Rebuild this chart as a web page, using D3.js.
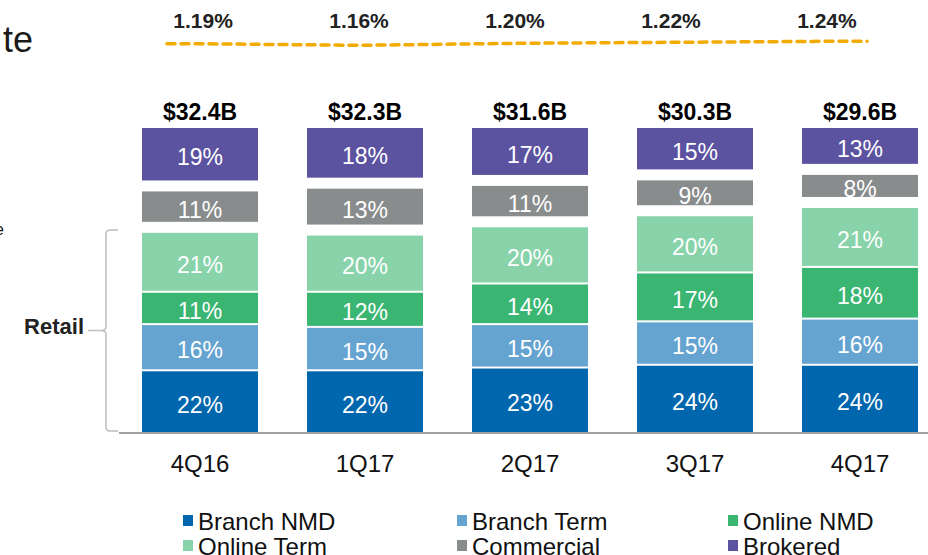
<!DOCTYPE html>
<html>
<head>
<meta charset="utf-8">
<script src="https://cdn.jsdelivr.net/npm/d3@7"></script>
<style>
  body { margin: 0; background: #fff; }
  svg { font-family: "Liberation Sans", Arial, sans-serif; display: block; }
</style>
</head>
<body>
<div id="chart"></div>
<script>
const quarters = ["4Q16", "1Q17", "2Q17", "3Q17", "4Q17"];
const seriesNames = ["Branch NMD", "Branch Term", "Online NMD", "Online Term", "Commercial", "Brokered"];
const branchNMD = [22, 22, 23, 24, 24];
const branchTerm = [16, 15, 15, 15, 16];
const onlineNMD = [11, 12, 14, 17, 18];
const onlineTerm = [21, 20, 20, 20, 21];
const commercial = [11, 13, 11, 9, 8];
const brokered = [19, 18, 17, 15, 13];
const totals = [32.4, 32.3, 31.6, 30.3, 29.6];
const rates = [1.19, 1.16, 1.20, 1.22, 1.24];

const colors = ["#0066ad", "#65a3d0", "#3ab572", "#88d3aa", "#898c8c", "#5b52a0"];

const width = 928;
const height = 555;
const baseY = 432;
// white space stacked under each series (retail pieces sit close, the others apart)
const gapBelow = [0, 2, 4, 6, 17, 28];

const rows = quarters.map((q, i) => ({
  quarter: q,
  "Branch NMD": branchNMD[i],
  "Branch Term": branchTerm[i],
  "Online NMD": onlineNMD[i],
  "Online Term": onlineTerm[i],
  "Commercial": commercial[i],
  "Brokered": brokered[i]
}));

const stacked = d3.stack().keys(seriesNames)(rows);

const x = d3.scaleBand()
  .domain(quarters)
  .range([142, 918])
  .paddingInner(0.297)
  .paddingOuter(0);

const h = d3.scaleLinear()
  .domain([0, 100])
  .range([0, 276]);

const svg = d3.select('#chart')
  .append('svg')
  .attr('width', width)
  .attr('height', height);

// cut-off title pieces at the left edge
svg.append('text')
  .text('te')
  .attr('x', 33)
  .attr('y', 52)
  .attr('text-anchor', 'end')
  .style('font-size', '36px')
  .attr('fill', '#1a1a1a');

svg.append('text')
  .text('e')
  .attr('x', 4)
  .attr('y', 235)
  .attr('text-anchor', 'end')
  .style('font-size', '17px')
  .attr('fill', '#1a1a1a');

// baseline
svg.append('line')
  .attr('x1', 119)
  .attr('x2', width)
  .attr('y1', baseY + 1)
  .attr('y2', baseY + 1)
  .attr('stroke', '#a0a0a0')
  .attr('stroke-width', 2);

const layers = svg.selectAll('g.layer')
  .data(stacked)
  .enter()
  .append('g')
  .attr('class', 'layer')
  .attr('fill', (d, i) => colors[i]);

layers.selectAll('rect')
  .data((d, i) => d.map(p => ({ p: p, i: i })))
  .enter()
  .append('rect')
  .attr('x', d => x(d.p.data.quarter))
  .attr('width', x.bandwidth())
  .attr('y', d => baseY - h(d.p[1]) - gapBelow[d.i])
  .attr('height', d => h(d.p[1]) - h(d.p[0]));

layers.selectAll('text')
  .data((d, i) => d.map(p => ({ p: p, i: i })))
  .enter()
  .append('text')
  .text(d => (d.p[1] - d.p[0]) + '%')
  .attr('x', d => x(d.p.data.quarter) + x.bandwidth() / 2)
  .attr('y', d => baseY - gapBelow[d.i] - (h(d.p[0]) + h(d.p[1])) / 2)
  .attr('dy', '0.48em')
  .attr('text-anchor', 'middle')
  .attr('fill', '#fff')
  .style('font-size', '23px');

// totals above the bars
svg.selectAll('text.total')
  .data(totals)
  .enter()
  .append('text')
  .attr('class', 'total')
  .text(d => '$' + d.toFixed(1) + 'B')
  .attr('x', (d, i) => x(quarters[i]) + x.bandwidth() / 2)
  .attr('y', baseY - h(100) - gapBelow[5] - 8)
  .attr('text-anchor', 'middle')
  .attr('fill', '#000')
  .style('font-weight', 'bold')
  .style('font-size', '23px');

// quarter labels
svg.selectAll('text.quarter')
  .data(quarters)
  .enter()
  .append('text')
  .attr('class', 'quarter')
  .text(d => d)
  .attr('x', d => x(d) + x.bandwidth() / 2)
  .attr('y', 472)
  .attr('text-anchor', 'middle')
  .attr('fill', '#111')
  .style('font-size', '24px');

// rate line on top
const xr = d3.scalePoint()
  .domain(quarters)
  .range([167, 867])
  .padding(0.244);

const yr = d3.scaleLinear()
  .domain([1.16, 1.24])
  .range([45.3, 41.3]);

const ratePts = [[xr.range()[0], yr(rates[0])]]
  .concat(rates.map((r, i) => [xr(quarters[i]), yr(r)]))
  .concat([[xr.range()[1], yr(rates[rates.length - 1])]]);

svg.append('path')
  .datum(ratePts)
  .attr('d', d3.line())
  .attr('fill', 'none')
  .attr('stroke', '#f2ab00')
  .attr('stroke-width', 3.5)
  .attr('stroke-dasharray', '8 6')
  .attr('stroke-linecap', 'round');

svg.selectAll('text.rate')
  .data(rates)
  .enter()
  .append('text')
  .attr('class', 'rate')
  .text(d => d.toFixed(2) + '%')
  .attr('x', (d, i) => xr(quarters[i]) - 2)
  .attr('y', 28)
  .attr('text-anchor', 'middle')
  .attr('fill', '#222')
  .style('font-weight', 'bold')
  .style('font-size', '21px');

// retail bracket
const br = svg.append('g');
const yTop = 230, yBot = 431, yMid = (yTop + yBot) / 2;
br.append('path')
  .attr('d', `M118,${yTop} L110,${yTop} Q106,${yTop} 106,${yTop + 4} L106,${yMid - 4} Q106,${yMid} 101,${yMid}`
    + ` Q106,${yMid} 106,${yMid + 4} L106,${yBot - 4} Q106,${yBot} 110,${yBot} L118,${yBot}`)
  .attr('fill', 'none')
  .attr('stroke', '#bdbdbd')
  .attr('stroke-width', 1.5);

br.append('line')
  .attr('x1', 88)
  .attr('x2', 101)
  .attr('y1', yMid)
  .attr('y2', yMid)
  .attr('stroke', '#bdbdbd')
  .attr('stroke-width', 1.5);

br.append('text')
  .text('Retail')
  .attr('x', 84)
  .attr('y', yMid + 3)
  .attr('text-anchor', 'end')
  .attr('fill', '#222')
  .style('font-weight', 'bold')
  .style('font-size', '22px');

// legend
const legendX = [183, 457, 728];
const legendY = [515, 540];
const legend = svg.selectAll('g.legend')
  .data(seriesNames)
  .enter()
  .append('g')
  .attr('class', 'legend')
  .attr('transform', (d, i) => `translate(${legendX[i % 3]}, ${legendY[Math.floor(i / 3)]})`);

legend.append('rect')
  .attr('width', 10)
  .attr('height', 11)
  .attr('fill', (d, i) => colors[i]);

legend.append('text')
  .text(d => d)
  .attr('x', 15)
  .attr('y', 15)
  .attr('fill', '#111')
  .style('font-size', '24px');
</script>
</body>
</html>
